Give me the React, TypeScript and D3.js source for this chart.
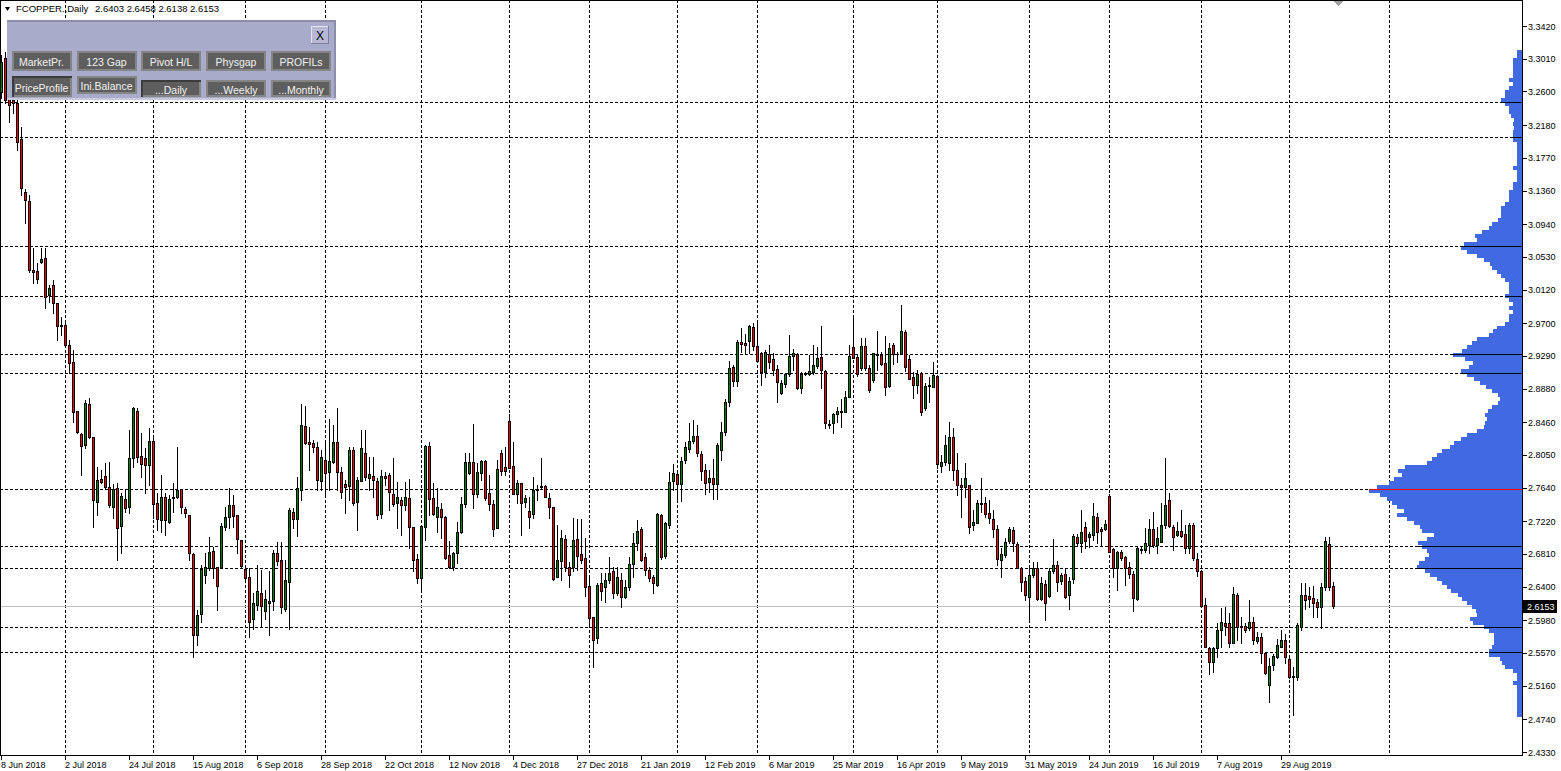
import React from "react";
import * as d3 from "d3";

// ---------- data ----------
const SYMBOL = "FCOPPER.,Daily";
const LAST_OHLC = ["2.6403", "2.6458", "2.6138", "2.6153"];
const LAST_PRICE = 2.6153;

const OPEN = [
3.259,3.302,3.256,3.249,3.246,3.201,3.134,3.123,3.037,3.035,3.047,3.052,3.005,3.018,2.995,2.968,2.968,2.943,2.921,2.860,
2.831,2.817,2.869,2.827,2.746,2.775,2.779,2.765,2.740,2.764,2.716,2.750,2.740,2.801,2.860,2.804,2.801,2.792,2.822,2.745,
2.724,2.752,2.721,2.752,2.752,2.762,2.737,2.730,2.681,2.580,2.606,2.655,2.664,2.685,2.665,2.665,2.715,2.727,2.742,2.730,
2.699,2.662,2.652,2.600,2.617,2.632,2.610,2.620,2.622,2.682,2.674,2.612,2.646,2.734,2.725,2.761,2.841,2.821,2.820,2.815,
2.772,2.799,2.784,2.796,2.821,2.784,2.769,2.766,2.811,2.746,2.772,2.807,2.776,2.779,2.772,2.731,2.779,2.780,2.756,2.745,
2.749,2.742,2.751,2.715,2.675,2.651,2.715,2.816,2.751,2.727,2.737,2.727,2.680,2.665,2.682,2.709,2.744,2.782,2.796,2.756,
2.782,2.797,2.757,2.744,2.714,2.807,2.790,2.848,2.791,2.756,2.770,2.746,2.735,2.731,2.761,2.765,2.766,2.751,2.740,2.652,
2.672,2.700,2.665,2.665,2.700,2.681,2.676,2.641,2.602,2.576,2.645,2.639,2.648,2.659,2.632,2.648,2.627,2.640,2.668,2.695,
2.712,2.677,2.661,2.652,2.642,2.730,2.679,2.717,2.772,2.781,2.769,2.799,2.812,2.822,2.829,2.806,2.786,2.771,2.776,2.769,
2.811,2.834,2.871,2.915,2.898,2.946,2.945,2.948,2.965,2.941,2.933,2.909,2.931,2.925,2.913,2.883,2.894,2.906,2.929,2.931,
2.889,2.908,2.906,2.909,2.916,2.928,2.910,2.844,2.845,2.856,2.859,2.859,2.878,2.940,2.928,2.914,2.941,2.914,2.899,2.931,
2.930,2.920,2.891,2.943,2.931,2.931,2.959,2.925,2.903,2.893,2.908,2.864,2.893,2.890,2.904,2.791,2.796,2.795,2.827,2.786,
2.767,2.765,2.767,2.717,2.720,2.745,2.745,2.732,2.725,2.712,2.674,2.680,2.697,2.711,2.694,2.664,2.647,2.627,2.654,2.664,
2.625,2.643,2.628,2.659,2.667,2.647,2.656,2.630,2.650,2.702,2.695,2.715,2.702,2.705,2.727,2.712,2.712,2.754,2.687,2.664,
2.684,2.677,2.665,2.656,2.625,2.687,2.686,2.692,2.712,2.692,2.696,2.717,2.749,2.715,2.705,2.710,2.706,2.689,2.717,2.675,
2.659,2.617,2.563,2.546,2.563,2.586,2.595,2.595,2.570,2.630,2.590,2.591,2.588,2.596,2.572,2.577,2.557,2.517,2.542,2.552,
2.565,2.573,2.550,2.528,2.527,2.590,2.630,2.628,2.626,2.621,2.615,2.640,2.694,2.6403];

const HIGH = [
3.306,3.310,3.264,3.262,3.252,3.216,3.138,3.130,3.064,3.045,3.064,3.064,3.018,3.024,2.995,2.978,2.970,2.949,2.936,2.860,
2.832,2.874,2.876,2.827,2.790,2.786,2.795,2.796,2.768,2.770,2.757,2.761,2.836,2.865,2.864,2.832,2.814,2.839,2.826,2.757,
2.780,2.757,2.755,2.770,2.815,2.762,2.740,2.730,2.682,2.611,2.667,2.682,2.702,2.690,2.665,2.720,2.740,2.764,2.755,2.730,
2.699,2.664,2.664,2.632,2.667,2.661,2.636,2.659,2.686,2.696,2.696,2.674,2.739,2.739,2.777,2.869,2.866,2.840,2.824,2.821,
2.811,2.820,2.850,2.842,2.864,2.790,2.774,2.815,2.815,2.777,2.836,2.836,2.802,2.802,2.776,2.786,2.784,2.782,2.801,2.771,
2.752,2.771,2.775,2.715,2.681,2.716,2.817,2.821,2.770,2.764,2.745,2.729,2.697,2.684,2.721,2.752,2.807,2.807,2.844,2.795,
2.799,2.799,2.780,2.749,2.799,2.811,2.815,2.856,2.821,2.774,2.770,2.755,2.752,2.777,2.767,2.801,2.767,2.757,2.740,2.717,
2.711,2.705,2.671,2.726,2.725,2.725,2.701,2.655,2.602,2.645,2.657,2.657,2.677,2.665,2.665,2.657,2.648,2.677,2.707,2.724,
2.715,2.682,2.665,2.655,2.732,2.731,2.721,2.784,2.794,2.784,2.802,2.821,2.845,2.849,2.842,2.810,2.794,2.786,2.800,2.820,
2.846,2.875,2.923,2.918,2.949,2.964,2.956,2.968,2.970,2.970,2.934,2.936,2.943,2.933,2.918,2.899,2.908,2.955,2.938,2.933,
2.909,2.909,2.930,2.943,2.940,2.967,2.911,2.849,2.857,2.865,2.875,2.885,2.943,2.980,2.930,2.951,2.951,2.918,2.933,2.960,
2.934,2.954,2.945,2.945,2.934,2.993,2.961,2.930,2.909,2.911,2.909,2.895,2.903,2.921,2.905,2.805,2.830,2.846,2.839,2.807,
2.776,2.795,2.767,2.736,2.749,2.776,2.752,2.749,2.736,2.717,2.689,2.701,2.715,2.715,2.696,2.665,2.652,2.667,2.671,2.671,
2.652,2.648,2.664,2.700,2.672,2.657,2.664,2.652,2.706,2.706,2.736,2.721,2.709,2.745,2.732,2.715,2.724,2.756,2.689,2.685,
2.686,2.679,2.671,2.659,2.690,2.690,2.714,2.725,2.734,2.715,2.745,2.801,2.757,2.717,2.721,2.736,2.717,2.720,2.720,2.682,
2.659,2.626,2.565,2.565,2.595,2.613,2.615,2.607,2.640,2.632,2.602,2.595,2.623,2.602,2.583,2.582,2.558,2.551,2.556,2.575,
2.586,2.581,2.555,2.540,2.595,2.645,2.645,2.640,2.641,2.625,2.645,2.702,2.702,2.6458];

const LOW = [
3.252,3.246,3.222,3.233,3.187,3.130,3.095,3.034,3.020,3.020,3.045,2.989,2.997,2.983,2.949,2.955,2.940,2.908,2.846,2.832,
2.780,2.814,2.826,2.715,2.730,2.770,2.764,2.740,2.726,2.674,2.682,2.734,2.732,2.790,2.796,2.777,2.757,2.767,2.726,2.711,
2.709,2.705,2.720,2.734,2.751,2.732,2.727,2.674,2.552,2.567,2.596,2.645,2.661,2.651,2.611,2.664,2.711,2.714,2.715,2.682,
2.665,2.648,2.577,2.587,2.611,2.591,2.600,2.580,2.611,2.667,2.607,2.609,2.587,2.714,2.704,2.749,2.819,2.786,2.809,2.761,
2.761,2.752,2.761,2.795,2.761,2.751,2.732,2.749,2.742,2.711,2.772,2.774,2.761,2.752,2.725,2.726,2.767,2.736,2.741,2.714,
2.705,2.736,2.689,2.659,2.645,2.636,2.699,2.730,2.730,2.709,2.701,2.675,2.664,2.661,2.670,2.707,2.740,2.781,2.739,2.752,
2.774,2.749,2.736,2.704,2.714,2.780,2.780,2.789,2.756,2.745,2.705,2.740,2.714,2.726,2.749,2.764,2.752,2.726,2.648,2.652,
2.648,2.659,2.640,2.659,2.661,2.670,2.628,2.590,2.540,2.570,2.623,2.621,2.645,2.626,2.630,2.615,2.626,2.636,2.652,2.686,
2.672,2.655,2.647,2.632,2.641,2.675,2.676,2.714,2.761,2.747,2.747,2.795,2.809,2.820,2.804,2.774,2.756,2.759,2.750,2.750,
2.799,2.830,2.866,2.891,2.891,2.934,2.933,2.933,2.936,2.921,2.893,2.903,2.914,2.905,2.871,2.881,2.890,2.904,2.911,2.888,
2.883,2.905,2.905,2.906,2.914,2.889,2.839,2.839,2.832,2.846,2.840,2.859,2.878,2.926,2.904,2.911,2.911,2.884,2.896,2.911,
2.918,2.880,2.890,2.919,2.921,2.931,2.910,2.900,2.876,2.883,2.855,2.861,2.871,2.890,2.789,2.784,2.792,2.786,2.774,2.755,
2.727,2.752,2.707,2.711,2.720,2.734,2.727,2.720,2.702,2.667,2.652,2.677,2.695,2.685,2.663,2.634,2.623,2.598,2.652,2.623,
2.623,2.598,2.627,2.657,2.635,2.643,2.626,2.612,2.645,2.692,2.684,2.689,2.690,2.699,2.695,2.692,2.711,2.684,2.652,2.636,
2.674,2.642,2.651,2.610,2.623,2.682,2.684,2.682,2.690,2.682,2.696,2.714,2.715,2.686,2.704,2.702,2.682,2.682,2.674,2.653,
2.615,2.564,2.531,2.533,2.552,2.565,2.580,2.565,2.570,2.573,2.570,2.583,2.586,2.568,2.570,2.545,2.531,2.496,2.536,2.551,
2.564,2.545,2.526,2.479,2.523,2.586,2.612,2.615,2.602,2.602,2.588,2.636,2.636,2.6138];

const CLOSE = [
3.297,3.249,3.243,3.246,3.197,3.139,3.124,3.037,3.034,3.025,3.050,3.003,3.014,2.995,2.967,2.966,2.943,2.920,2.859,2.834,
2.816,2.870,2.827,2.749,2.774,2.771,2.765,2.742,2.762,2.714,2.754,2.739,2.801,2.864,2.802,2.794,2.792,2.822,2.744,2.725,
2.752,2.724,2.750,2.751,2.761,2.740,2.732,2.682,2.580,2.605,2.662,2.665,2.684,2.664,2.641,2.716,2.727,2.742,2.729,2.700,
2.666,2.651,2.596,2.620,2.634,2.616,2.625,2.622,2.682,2.672,2.615,2.648,2.736,2.725,2.764,2.842,2.820,2.819,2.815,2.774,
2.802,2.782,2.797,2.821,2.784,2.759,2.765,2.811,2.745,2.774,2.814,2.777,2.781,2.774,2.730,2.779,2.776,2.759,2.744,2.752,
2.742,2.752,2.715,2.674,2.651,2.716,2.816,2.750,2.731,2.740,2.727,2.676,2.665,2.682,2.709,2.744,2.796,2.796,2.756,2.784,
2.797,2.751,2.744,2.712,2.787,2.785,2.785,2.789,2.756,2.770,2.745,2.751,2.727,2.761,2.762,2.766,2.752,2.740,2.650,2.674,
2.701,2.665,2.654,2.699,2.679,2.674,2.640,2.601,2.573,2.642,2.634,2.648,2.657,2.632,2.652,2.627,2.639,2.668,2.695,2.710,
2.674,2.661,2.651,2.644,2.731,2.677,2.720,2.771,2.782,2.769,2.797,2.815,2.822,2.829,2.807,2.785,2.770,2.776,2.769,2.817,
2.834,2.871,2.914,2.898,2.946,2.944,2.943,2.967,2.941,2.923,2.909,2.934,2.921,2.911,2.896,2.895,2.906,2.929,2.933,2.889,
2.906,2.906,2.910,2.918,2.926,2.911,2.845,2.842,2.856,2.860,2.860,2.878,2.929,2.926,2.906,2.941,2.914,2.886,2.933,2.930,
2.919,2.890,2.939,2.931,2.931,2.960,2.915,2.900,2.893,2.906,2.859,2.891,2.891,2.905,2.794,2.796,2.817,2.827,2.786,2.767,
2.765,2.776,2.715,2.721,2.745,2.744,2.731,2.726,2.712,2.675,2.681,2.696,2.712,2.695,2.664,2.646,2.630,2.654,2.664,2.625,
2.645,2.620,2.660,2.667,2.646,2.655,2.627,2.647,2.704,2.695,2.709,2.697,2.706,2.729,2.709,2.710,2.719,2.684,2.664,2.684,
2.676,2.664,2.656,2.626,2.689,2.686,2.695,2.712,2.692,2.701,2.717,2.742,2.716,2.702,2.710,2.704,2.689,2.717,2.676,2.659,
2.616,2.565,2.546,2.563,2.586,2.596,2.591,2.570,2.631,2.590,2.591,2.586,2.596,2.573,2.577,2.557,2.532,2.541,2.553,2.567,
2.573,2.552,2.527,2.527,2.592,2.630,2.623,2.625,2.620,2.615,2.640,2.697,2.640,2.6153];

// Price-profile (volume at price) histogram, bins of 0.005 from 3.312 downward
const PROFILE_TOP = 3.312;
const PROFILE_STEP = 0.005;
const PROFILE = [
5,5,9,9,9,9,9,13,9,13, 17,17,21,17,13,13,11,8,9,8,
9,9,9,5,5,5,5,5,5,9, 5,5,5,9,9,13,13,13,17,21,
21,21,24,30,33,40,47,45,58,61, 55,45,38,32,30,25,21,17,13,13,
13,17,13,9,13,9,13,13,17,25, 29,33,45,50,55,60,69,57,49,53,
61,55,48,42,36,30,24,22,24,30, 34,37,35,37,38,45,55,61,68,72,
80,85,90,95,117,124,120,128,133,145, 153,142,135,130,125,118,125,115,108,102,
100,88,95,104,100,95,93,97,103,105, 97,92,85,80,75,71,64,60,55,50,
46,45,52,49,38,33,28,28,28,30, 33,33,22,20,17,9,5,5,9,5,
5,5,5,5,5,5,5];

const LEVELS = [3.2465, 3.2030, 3.0662, 3.0040, 2.9310, 2.9072, 2.6910, 2.6630, 2.5900, 2.5580];
const POC = 2.7625;

const PRICE_TICKS = ["3.3420","3.3010","3.2600","3.2180","3.1770","3.1360","3.0940","3.0530","3.0120","2.9700",
"2.9290","2.8880","2.8460","2.8050","2.7640","2.7220","2.6810","2.6400","2.5980","2.5570","2.5160","2.4740","2.4330"];

const DATE_LABELS = ["8 Jun 2018","2 Jul 2018","24 Jul 2018","15 Aug 2018","6 Sep 2018","28 Sep 2018","22 Oct 2018",
"12 Nov 2018","4 Dec 2018","27 Dec 2018","21 Jan 2019","12 Feb 2019","6 Mar 2019","25 Mar 2019","16 Apr 2019",
"9 May 2019","31 May 2019","24 Jun 2019","16 Jul 2019","7 Aug 2019","29 Aug 2019"];
const DATE_LABEL_EVERY = 16;

const HOLIDAYS = ["2018-12-25", "2019-01-01", "2019-04-19"];
const EXTRA_SUNDAYS = ["2018-10-28", "2019-03-10", "2019-03-17", "2019-03-24"];

const BUTTON_ROW1 = ["MarketPr.", "123 Gap", "Pivot H/L", "Physgap", "PROFILs"];
const BUTTON_ROW2 = ["PriceProfile", "Ini.Balance", "...Daily", "...Weekly", "...Monthly"];

// ---------- helpers ----------
const pad = (n: number) => (n < 10 ? "0" + n : "" + n);
const keyOf = (d: Date) => `${d.getFullYear()}-${pad(d.getMonth() + 1)}-${pad(d.getDate())}`;

function buildDates(n: number): Date[] {
  const out: Date[] = [];
  const d = new Date(2018, 5, 8);
  while (out.length < n) {
    const k = keyOf(d);
    const dow = d.getDay();
    if ((dow >= 1 && dow <= 5 && !HOLIDAYS.includes(k)) || EXTRA_SUNDAYS.includes(k)) out.push(new Date(d));
    d.setDate(d.getDate() + 1);
  }
  return out;
}

const W = 1561, H = 771;
const PR = 1522; // plot right
const PB = 755; // plot bottom
const FONT = "'Liberation Sans', Arial, sans-serif";

export default function App() {
  const n = CLOSE.length;
  const x = d3.scaleLinear().domain([0, 1]).range([1, 5]);
  const y = d3.scaleLinear().domain([2.433, 3.342]).range([752, 26]);
  const maxProf = d3.max(PROFILE) as number;
  const xp = d3.scaleLinear().domain([0, maxProf]).range([PR, PR - 153]);

  const dates = buildDates(n);
  const monthStarts: number[] = [];
  for (let i = 1; i < n; i++) if (dates[i].getMonth() !== dates[i - 1].getMonth()) monthStarts.push(i);
  const last = dates[n - 1];
  const nextMonth = new Date(last.getFullYear(), last.getMonth() + 1, 1);
  monthStarts.push(n - 1 + Math.round((nextMonth.getTime() - last.getTime()) / 86400000));

  const binOf = (p: number) => Math.floor((PROFILE_TOP - p) / PROFILE_STEP);
  const profAt = (p: number) => {
    const i = binOf(p);
    return Math.max(PROFILE[i - 1] || 0, PROFILE[i] || 0, PROFILE[i + 1] || 0);
  };
  const ry = (p: number) => Math.round(y(p));

  const lastY = ry(LAST_PRICE);

  const btnX = [11.5, 76.5, 141, 206, 271];
  const btnW = 60;

  return (
    <svg width={W} height={H} style={{ position: "absolute", left: 0, top: 0, background: "#fff" }}>
      <rect x={0} y={0} width={W} height={H} fill="#fff" />
      <g shapeRendering="crispEdges">
        {/* vertical month grid */}
        {monthStarts.map((i) => (
          <line key={"v" + i} x1={Math.round(x(i)) + 0.5} x2={Math.round(x(i)) + 0.5} y1={0} y2={PB}
            stroke="#000" strokeDasharray="3,2" />
        ))}
        {/* level lines */}
        {LEVELS.concat([POC]).map((p, k) => (
          <line key={"h" + k} x1={0} x2={PR} y1={ry(p) + 0.5} y2={ry(p) + 0.5} stroke="#000" strokeDasharray="3,2" />
        ))}
        {/* last price line */}
        <line x1={0} x2={PR} y1={lastY + 0.5} y2={lastY + 0.5} stroke="#C0C0C0" />
        {/* profile */}
        {PROFILE.map((v, i) => {
          const top = PROFILE_TOP - i * PROFILE_STEP;
          const y0 = ry(top), y1 = ry(top - PROFILE_STEP);
          return <rect key={"p" + i} x={xp(v)} y={y0} width={PR - xp(v)} height={y1 - y0} fill="#4169E1" />;
        })}
        {LEVELS.map((p, k) => (
          <line key={"s" + k} x1={xp(profAt(p))} x2={PR} y1={ry(p) + 0.5} y2={ry(p) + 0.5} stroke="#000" />
        ))}
        <line x1={xp(maxProf)} x2={PR} y1={ry(POC) + 0.5} y2={ry(POC) + 0.5} stroke="#FF0000" />
        {/* candles */}
        {CLOSE.map((c, i) => {
          const o = OPEN[i], h = HIGH[i], l = LOW[i];
          const cx = Math.round(x(i));
          const yt = ry(Math.max(o, c)), yb = ry(Math.min(o, c));
          const yh = ry(h), yl = ry(l);
          return (
            <g key={"c" + i}>
              <line x1={cx + 0.5} x2={cx + 0.5} y1={yh} y2={yl + 1} stroke="#000" />
              <rect x={cx - 1} y={yt} width={3} height={Math.max(1, yb - yt + 1)} fill="#000" />
              {yb - yt >= 2 && (
                <rect x={cx} y={yt + 1} width={1} height={yb - yt - 1} fill={c >= o ? "#008000" : "#FF0000"} />
              )}
            </g>
          );
        })}
        {/* frame */}
        <line x1={0} x2={PR} y1={0.5} y2={0.5} stroke="#000" />
        <line x1={0.5} x2={0.5} y1={0} y2={PB} stroke="#000" />
        <line x1={PR + 0.5} x2={PR + 0.5} y1={0} y2={PB + 1} stroke="#000" />
        <line x1={0} x2={PR + 1} y1={PB + 0.5} y2={PB + 0.5} stroke="#000" />
        {/* axis ticks */}
        {PRICE_TICKS.map((t) => (
          <line key={"pt" + t} x1={PR + 1} x2={PR + 5} y1={ry(+t) + 0.5} y2={ry(+t) + 0.5} stroke="#000" />
        ))}
        {DATE_LABELS.map((t, k) => {
          const xx = Math.round(x(k * DATE_LABEL_EVERY)) + 0.5;
          return <line key={"dt" + k} x1={xx} x2={xx} y1={PB + 1} y2={PB + 5} stroke="#000" />;
        })}
        {/* chart shift marker */}
        <polygon points="1333,1 1344,1 1338.5,6" fill="#A0A0A0" />
      </g>

      {/* price axis labels */}
      <g fontFamily={FONT} fontSize={9} fill="#000">
        {PRICE_TICKS.map((t) => (
          <text key={"pl" + t} x={1528} y={y(+t) + 3.5}>{t}</text>
        ))}
        {DATE_LABELS.map((t, k) => (
          <text key={"dl" + k} x={Math.max(0, Math.round(x(k * DATE_LABEL_EVERY)))} y={767.5}>{t}</text>
        ))}
      </g>
      {/* last price tag */}
      <rect x={1523} y={lastY - 6} width={34} height={13} fill="#000" shapeRendering="crispEdges" />
      <text x={1527} y={lastY + 4} fontFamily={FONT} fontSize={9} fill="#fff">{LAST_PRICE.toFixed(4)}</text>

      {/* header */}
      <polygon points="5,7 10,7 7.5,11" fill="#000" />
      <text x={16} y={12} fontFamily={FONT} fontSize={9.5} fill="#000">
        {SYMBOL}
        <tspan x={95}>{LAST_OHLC.join(" ")}</tspan>
      </text>

      {/* control panel */}
      <g shapeRendering="crispEdges">
        <rect x={7} y={20} width={329} height={80} fill="#A9ABCB" />
        <rect x={7} y={20} width={329} height={2} fill="#8C8EAC" />
        <rect x={334} y={20} width={2} height={80} fill="#8C8EAC" />
        <rect x={7} y={98} width={329} height={2} fill="#C8C9DD" />
        {/* close button */}
        <rect x={311} y={26} width={18} height={18} fill="#B6B8D4" />
        <rect x={311} y={26} width={18} height={1} fill="#E2E3EE" />
        <rect x={311} y={26} width={1} height={18} fill="#E2E3EE" />
        <rect x={311} y={43} width={18} height={1} fill="#7C7E9C" />
        <rect x={328} y={26} width={1} height={18} fill="#7C7E9C" />
        {BUTTON_ROW1.map((b, k) => (
          <g key={"b1" + k}>
            <rect x={btnX[k]} y={51} width={btnW} height={20} fill="#858585" />
            <rect x={btnX[k] + 2} y={53} width={btnW - 4} height={16} fill="#5E5E5E" />
          </g>
        ))}
        {BUTTON_ROW2.map((b, k) => {
          const pressed = k === 0 || k === 2;
          const top = k < 2 ? 76 : 80;
          const hgt = k === 1 ? 18 : k === 0 ? 21 : 17;
          return (
            <g key={"b2" + k}>
              <rect x={btnX[k]} y={top} width={btnW} height={hgt} fill={pressed ? "#3C3C3C" : "#858585"} />
              {pressed && <rect x={btnX[k] + 2} y={top + hgt - 2} width={btnW - 2} height={2} fill="#858585" />}
              {pressed && <rect x={btnX[k] + btnW - 2} y={top + 2} width={2} height={hgt - 2} fill="#858585" />}
              <rect x={btnX[k] + 2} y={top + 2} width={btnW - 4} height={hgt - 4} fill="#5E5E5E" />
            </g>
          );
        })}
      </g>
      <text x={320} y={39.5} fontFamily={FONT} fontSize={12} fill="#000" textAnchor="middle">X</text>
      <g fontFamily={FONT} fontSize={10.5} fill="#F2F2F2" textAnchor="middle">
        {BUTTON_ROW1.map((b, k) => (
          <text key={"t1" + k} x={btnX[k] + btnW / 2} y={65.5}>{b}</text>
        ))}
        {BUTTON_ROW2.map((b, k) => (
          <text key={"t2" + k} x={btnX[k] + btnW / 2} y={k === 0 ? 91.5 : k === 1 ? 90 : 94}>{b}</text>
        ))}
      </g>
    </svg>
  );
}
